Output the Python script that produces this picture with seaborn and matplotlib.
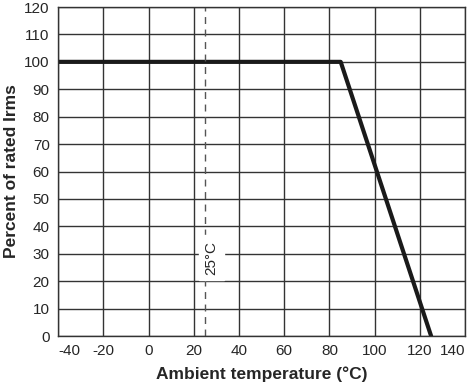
import pandas as pd
import seaborn as sns
import matplotlib.pyplot as plt

temperature = [-40, 85, 125]
percent_rated = [100, 100, 0]
ref_temp = 25
ref_label = "25°C"

df = pd.DataFrame({"temp": temperature, "pct": percent_rated})

sns.set_style("white")
plt.rcParams['font.family'] = ['Liberation Sans', 'DejaVu Sans']
plt.rcParams['axes.unicode_minus'] = False

fig = plt.figure(figsize=(4.76, 3.89), dpi=100)
ax = fig.add_axes([0.122, 0.136, 0.855, 0.846])

sns.lineplot(data=df, x="temp", y="pct", color="#1a1a1a", linewidth=3, ax=ax)

ax.axvline(ref_temp, color="#555555", linestyle=(0, (5, 4)), linewidth=1)
ax.text(ref_temp + 2.8, 28.5, ref_label, rotation=90, ha="center", va="center",
        fontsize=11, backgroundcolor="white")

ax.set_xlim(-40, 140)
ax.set_ylim(0, 120)
ax.set_xticks(range(-40, 141, 20))
ax.set_yticks(range(0, 121, 10))
ax.grid(True, color="#333333", linewidth=1)
for s in ax.spines.values():
    s.set_color("#333333")
    s.set_linewidth(1)
ax.tick_params(axis="both", labelsize=11, length=0, pad=6)

# keep the end labels inside the frame, like the original
xlabels = ax.get_xticklabels()
xlabels[0].set_ha("left")
xlabels[-1].set_ha("right")

ax.set_xlabel("Ambient temperature (°C)", fontsize=12.5, fontweight="bold", labelpad=6)
ax.set_ylabel("Percent of rated Irms", fontsize=12.5, fontweight="bold", labelpad=4)

fig.savefig("out.png", dpi=100)
